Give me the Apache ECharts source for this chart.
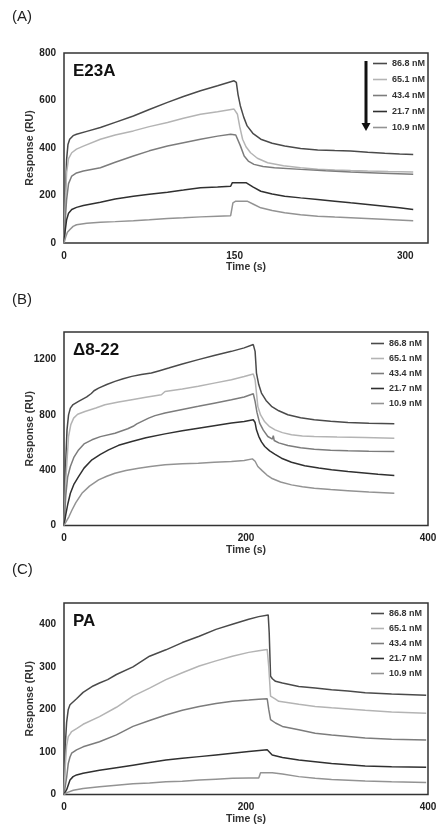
<!DOCTYPE html>
<html>
<head>
<meta charset="utf-8">
<script src="https://cdn.jsdelivr.net/npm/echarts@6/dist/echarts.min.js"></script>
<style>
  html, body { margin: 0; padding: 0; background: #fff; }
  #chart { width: 438px; height: 829px; }
</style>
</head>
<body>
<div id="chart"></div>
<script>
// concentrations (legend) and panel labels
const concentrations = ['86.8 nM', '65.1 nM', '43.4 nM', '21.7 nM', '10.9 nM'];
const panelLetters = ['(A)', '(B)', '(C)'];
const panelNames = ['E23A', 'Δ8-22', 'PA'];

// (A) E23A  [time (s), response (RU)]
const a868 = [[0,0],[1,180],[2.3,352],[3.5,415],[5,437],[8,452],[11,458],[20,470],[32,486],[45,508],[61,535],[75,562],[91,592],[105,617],[120,641],[135,662],[149.5,683],[151.5,676],[153,625],[155,578],[158,530],[161,493],[166,462],[173,437],[183,420],[194,408],[208,398],[223,392],[238,389],[252,387],[267,382],[282,378],[295,375],[307,373]];
const a651 = [[0,0],[1,150],[2.3,296],[4,355],[6.8,380],[11,395],[17,408],[32,437],[45,455],[61,472],[75,490],[91,507],[105,525],[120,542],[135,553],[149.5,564],[151,560],[152.5,542],[154.5,490],[157,437],[160,405],[164,380],[170,357],[179,338],[193,325],[208,317],[223,311],[238,307],[252,305],[267,303],[285,301],[307,299]];
const a434 = [[0,0],[1,90],[2.3,183],[4,250],[6.8,282],[11,295],[17,303],[32,317],[45,340],[61,366],[75,388],[91,408],[105,422],[120,437],[135,450],[146.5,458],[151,455],[152.5,451],[155,410],[158.4,366],[162,345],[167,331],[175,322],[185,317],[208,310],[230,304],[252,299],[280,294],[307,289]];
const a217 = [[0,0],[1,50],[2.3,98],[4,125],[6.8,141],[11,150],[17,158],[32,172],[45,185],[61,197],[75,205],[91,214],[105,223],[120,233],[135,236],[146.5,239],[148,254],[155,254],[160,254],[166,236],[173,218],[183,206],[194,197],[208,190],[223,183],[238,176],[252,169],[267,162],[282,155],[295,148],[307,141]];
const a109 = [[0,0],[1.5,25],[3,45],[5,56],[8,70],[11,77],[20,83],[32,87],[45,90],[61,94],[75,98],[91,103],[105,106],[120,110],[135,113],[146.5,115],[148.5,169],[151,176],[156,176],[161,176],[167,162],[173,148],[183,137],[194,127],[208,119],[223,113],[238,109],[252,106],[280,100],[307,94]];

// (B) Δ8-22
const b868 = [[0,0],[1.5,400],[3.3,692],[5,800],[7,849],[10,875],[16,898],[25,930],[30,955],[33,975],[38,994],[47,1020],[56,1043],[65,1062],[74.5,1079],[85,1092],[96,1103],[105,1120],[115,1139],[130,1168],[147.6,1200],[165,1230],[184,1260],[198,1285],[208,1309],[210,1260],[211.5,1103],[214,1020],[217,958],[222,905],[228,862],[236,830],[246,801],[260,780],[275,765],[293,754],[312,746],[335,740],[363,736]];
const b651 = [[0,0],[2,330],[5,644],[7.5,730],[10.6,777],[15,805],[23,825],[35,850],[45,874],[60,893],[74.5,910],[90,928],[107,946],[111,970],[130,988],[147.6,1007],[165,1030],[184,1055],[198,1078],[208,1096],[210,1055],[211.5,960],[213,862],[216,800],[220.6,750],[226,715],[232,692],[240,672],[250,656],[262,648],[275,644],[300,640],[330,636],[363,632]];
const b434 = [[0,0],[2,220],[4,350],[7,427],[11,495],[16,547],[22,590],[30.7,620],[40,643],[56,668],[70,700],[76,718],[78,712],[80,735],[93,777],[100,795],[111,814],[130,840],[147.6,862],[165,885],[184,910],[198,930],[208,953],[210,898],[212,820],[215,741],[219,690],[224,644],[226,640],[229,625],[230,650],[231,615],[236,598],[246,579],[260,563],[275,552],[293,545],[312,540],[335,537],[363,535]];
const b217 = [[0,0],[2,80],[4,150],[7,233],[11,300],[16,354],[22,415],[30.7,475],[40,515],[49,547],[60,580],[74.5,608],[90,635],[111,663],[130,685],[147.6,704],[165,722],[184,741],[198,752],[208,765],[210,745],[211.5,692],[214,645],[217,605],[220.6,572],[226,540],[232,515],[239,487],[250,458],[264.5,432],[280,416],[294,403],[312,390],[330,379],[345,370],[363,362]];
const b109 = [[0,0],[3,35],[5.5,65],[8.8,112],[13,165],[19.7,233],[28,285],[38,330],[47,356],[56,378],[68,398],[82,414],[95,427],[111,439],[130,446],[147.6,451],[165,457],[184,463],[198,470],[207,482],[208,480],[210,465],[213,427],[218,395],[223,365],[228,342],[238,315],[250,294],[262,280],[275,269],[293,260],[312,252],[335,242],[363,233]];

// (C) PA
const c868 = [[0,0],[1.5,120],[2.9,170],[4.7,200],[6.6,211],[8.4,215],[13.8,225],[21,240],[32,255],[39,262],[48,270],[57.6,282],[75.8,300],[94,325],[112,340],[130,357],[148.6,372],[167,388],[185,400],[203,412],[214,418],[224.4,422],[225.5,380],[227,278],[229,272],[232.4,266],[240,262],[258,254],[276,250],[294,246],[312,243],[331,239],[360,236],[398,233]];
const c651 = [[0,0],[1.5,70],[2.9,115],[4.7,136],[6.6,142],[8.4,148],[13.8,155],[21,165],[39,183],[57.6,205],[75.8,231],[94,250],[112,270],[130,286],[148.6,302],[167,314],[185,325],[203,334],[214,338],[223.3,341],[225,300],[227,231],[232.4,224],[236,219],[258,212],[276,207],[294,204],[331,198],[360,194],[398,191]];
const c434 = [[0,0],[2.9,40],[4.7,73],[6.6,88],[8.4,97],[13.8,105],[21,112],[39,124],[57.6,140],[75.8,160],[94,174],[112,187],[130,198],[148.6,207],[167,214],[185,219],[203,222],[214,224],[223.3,225],[225,200],[227,176],[232.4,168],[240,160],[258,152],[276,144],[294,140],[331,133],[360,130],[398,128]];
const c217 = [[0,0],[3,12],[6.6,34],[10,42],[13.8,46],[21,50],[39,57],[57.6,63],[75.8,69],[94,75],[112,81],[130,85],[148.6,89],[167,93],[185,97],[203,101],[223.3,105],[225,103],[228.8,93],[240,87],[258,81],[276,77],[294,73],[331,67],[360,65],[398,64]];
const c109 = [[0,0],[4,5],[10.2,10],[21,14],[39,18],[57.6,22],[75.8,25],[94,27],[112,30],[130,31],[148.6,34],[167,36],[185,38],[203,39],[214,39],[216,51],[220,51],[228.8,51],[240,48],[258,42],[276,38],[294,35],[331,32],[360,30],[398,28]];

// axis ranges
const xMax = [320, 400, 400];
const xStep = [150, 200, 200];
const yMax = [800, 1400, 450];
const yStep = [200, 400, 100];

const panelCurves = [
  [a868, a651, a434, a217, a109],
  [b868, b651, b434, b217, b109],
  [c868, c651, c434, c217, c109]
];

const lineColors = ['#4a4a4a', '#b4b4b4', '#7c7c7c', '#303030', '#939393'];
const FONT = 'Liberation Sans, Arial, sans-serif';

// layout of the three panels
const gridTops = [53, 332, 603];
const gridHeights = [190, 193.5, 191.5];
const letterTops = [9, 292, 562];
const legendLefts = [373, 371, 371];
const legendTops = [59, 339, 609];
const legendGaps = [7, 6, 6];
const legendLineW = [14, 13, 13];

let myChart = echarts.init(document.getElementById('chart'), null, { renderer: 'canvas' });

let grids = [], xAxes = [], yAxes = [], series = [], titles = [], legends = [];

function stepLabel(s) {
  return function (v) { return v % s === 0 ? String(v) : ''; };
}

for (let p = 0; p < 3; p++) {
  grids.push({
    left: 64, top: gridTops[p], width: 364, height: gridHeights[p],
    show: true, borderColor: '#333', borderWidth: 1.5,
    backgroundColor: 'transparent', outerBoundsMode: 'none'
  });
  xAxes.push({
    type: 'value', gridIndex: p, min: 0, max: xMax[p], interval: xStep[p],
    name: 'Time (s)', nameLocation: 'middle', nameGap: 19,
    nameTextStyle: { fontSize: 10.5, fontWeight: 'bold', color: '#333', fontFamily: FONT },
    axisLine: { show: false }, axisTick: { show: false }, splitLine: { show: false },
    axisLabel: { margin: 8, fontSize: 10, fontWeight: 'bold', color: '#222', fontFamily: FONT, formatter: stepLabel(xStep[p]) }
  });
  yAxes.push({
    type: 'value', gridIndex: p, min: 0, max: yMax[p], interval: yStep[p],
    name: 'Response (RU)', nameLocation: 'middle', nameGap: 28, nameMoveOverlap: false,
    nameTextStyle: { fontSize: 10.5, fontWeight: 'bold', color: '#333', fontFamily: FONT },
    axisLine: { show: false }, axisTick: { show: false }, splitLine: { show: false },
    axisLabel: { margin: 8, fontSize: 10, fontWeight: 'bold', color: '#222', fontFamily: FONT, formatter: stepLabel(yStep[p]) }
  });
  titles.push({
    text: panelLetters[p], left: 12, top: letterTops[p], padding: 0,
    textStyle: { fontSize: 15, fontWeight: 'normal', color: '#222', fontFamily: FONT }
  });
  titles.push({
    text: panelNames[p], left: 73, top: gridTops[p] + 10, padding: 0,
    textStyle: { fontSize: 17, fontWeight: 'bold', color: '#111', fontFamily: FONT }
  });
  legends.push({
    orient: 'vertical', left: legendLefts[p], top: legendTops[p], padding: 0,
    icon: 'rect', itemWidth: legendLineW[p], itemHeight: 1.6, itemGap: legendGaps[p],
    selectedMode: false, data: concentrations,
    textStyle: { fontSize: 9, fontWeight: 'bold', color: '#333', fontFamily: FONT }
  });
  for (let i = 0; i < 5; i++) {
    series.push({
      name: concentrations[i], type: 'line', xAxisIndex: p, yAxisIndex: p,
      data: panelCurves[p][i], symbol: 'none', smooth: false,
      color: lineColors[i], lineStyle: { width: 1.5, color: lineColors[i] }
    });
  }
}

myChart.setOption({
  animation: false,
  backgroundColor: '#fff',
  title: titles,
  legend: legends,
  grid: grids,
  xAxis: xAxes,
  yAxis: yAxes,
  series: series,
  graphic: [
    // downward arrow beside the (A) legend
    { type: 'line', shape: { x1: 366, y1: 61, x2: 366, y2: 124 }, style: { stroke: '#111', lineWidth: 3 } },
    { type: 'polygon', shape: { points: [[361.5, 123], [370.5, 123], [366, 131]] }, style: { fill: '#111' } }
  ]
});
</script>
</body>
</html>
